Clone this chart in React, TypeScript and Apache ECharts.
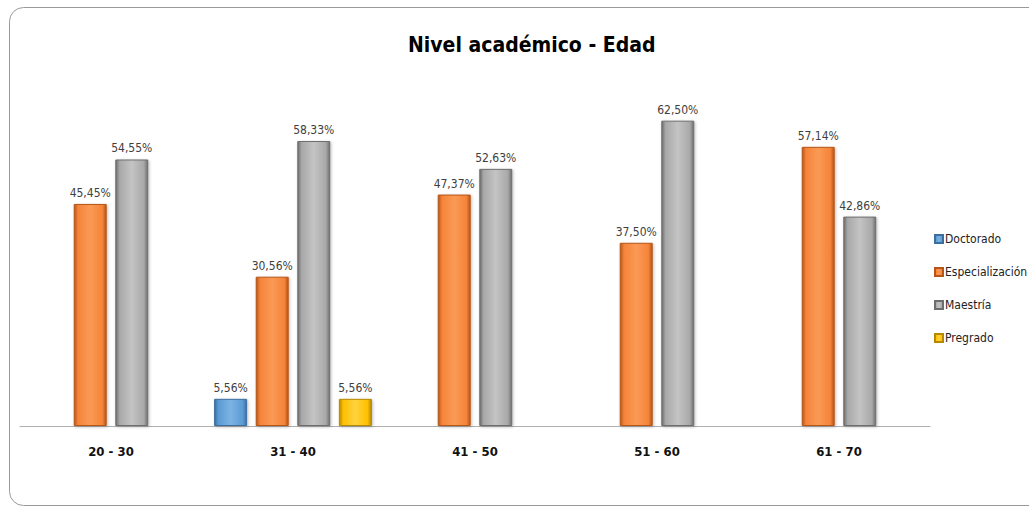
import React, { useEffect, useRef } from "react";
import * as echarts from "echarts";

const categories = ["20 - 30", "31 - 40", "41 - 50", "51 - 60", "61 - 70"];
const seriesNames = ["Doctorado", "Especialización", "Maestría", "Pregrado"];
const doctorado = [null, 5.56, null, null, null];
const especializacion = [45.45, 30.56, 47.37, 37.5, 57.14];
const maestria = [54.55, 58.33, 52.63, 62.5, 42.86];
const pregrado = [null, 5.56, null, null, null];

const palette = [
  { base: "#5B9BD5", light: "#7DB3E3", dark: "#3C6E9E" },
  { base: "#F5843A", light: "#FA9A55", dark: "#B65618" },
  { base: "#A8A8A8", light: "#C4C4C4", dark: "#6E6E6E" },
  { base: "#FFC000", light: "#FFD23F", dark: "#B58A00" },
];

const FONT = "'DejaVu Sans Condensed', 'Liberation Sans Narrow', sans-serif";

function grad(p: { base: string; light: string; dark: string }) {
  return new echarts.graphic.LinearGradient(1, 0, 0, 0, [
    { offset: 0, color: p.dark },
    { offset: 0.12, color: p.base },
    { offset: 0.5, color: p.light },
    { offset: 0.88, color: p.base },
    { offset: 1, color: p.dark },
  ]);
}

export default function App() {
  const ref = useRef<HTMLDivElement>(null);
  useEffect(() => {
    if (!ref.current) return;
    const chart = echarts.init(ref.current, null, { renderer: "svg" });
    const datasets = [doctorado, especializacion, maestria, pregrado];
    chart.setOption({
      animation: false,
      backgroundColor: "#ffffff",
      title: {
        text: "Nivel académico - Edad",
        left: 403,
        top: 29,
        textStyle: {
          fontFamily: FONT,
          fontWeight: "bold",
          fontSize: 21,
          color: "#000",
        },
      },
      legend: {
        orient: "vertical",
        left: 929,
        top: 228,
        itemWidth: 8,
        itemHeight: 8,
        itemGap: 21,
        icon: "rect",
        data: seriesNames,
        textStyle: { fontFamily: FONT, fontSize: 12, color: "#222", padding: [0, 0, 0, -3] },
      },
      graphic: [
        {
          type: "rect",
          shape: { x: 9.5, y: 7.5, width: 1060, height: 498, r: 14 },
          style: { fill: "none", stroke: "#9a9a9a", lineWidth: 1 },
          silent: true,
        },
      ],
      grid: { left: 20, right: 99, top: 84, bottom: 80, containLabel: false },
      xAxis: {
        type: "category",
        data: categories,
        axisLine: { show: true, lineStyle: { color: "#b0b0b0", width: 1 } },
        axisTick: { show: false },
        axisLabel: {
          fontFamily: FONT,
          fontWeight: "bold",
          fontSize: 13,
          color: "#111",
          margin: 19,
        },
      },
      yAxis: {
        type: "value",
        min: 0,
        max: 70,
        show: false,
        splitLine: { show: false },
      },
      series: datasets.map((d, i) => ({
        name: seriesNames[i],
        type: "bar",
        data: d,
        barWidth: 33,
        barGap: "26%",
        color: palette[i].base,
        itemStyle: {
          color: grad(palette[i]),
          borderColor: palette[i].dark,
          borderWidth: 1,
          shadowColor: "rgba(0,0,0,0.25)",
          shadowBlur: 3,
          shadowOffsetX: 1,
          shadowOffsetY: 1,
        },
        label: {
          show: true,
          position: "top",
          distance: 5,
          fontFamily: FONT,
          fontSize: 12,
          color: "#404040",
          formatter: (p: any) =>
            p.value == null ? "" : Number(p.value).toFixed(2).replace(".", ",") + "%",
        },
      })),
    });
    return () => chart.dispose();
  }, []);
  return (
    <div
      ref={ref}
      style={{ position: "fixed", left: 0, top: 0, width: 1029, height: 506 }}
    />
  );
}
